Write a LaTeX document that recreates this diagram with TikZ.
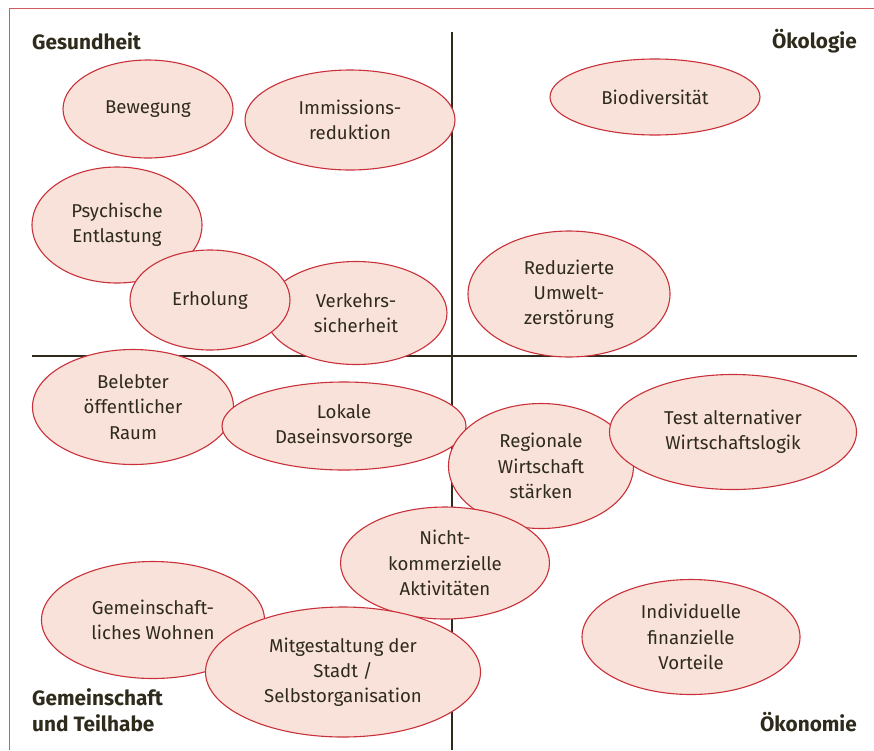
\documentclass[tikz,border=0pt]{standalone}
\usepackage{fontspec}
\setmainfont{Fira Sans}
\usetikzlibrary{shapes.geometric}
\definecolor{ellfill}{HTML}{F9E2D9}
\definecolor{elldraw}{HTML}{C9303A}
\definecolor{framecol}{HTML}{D05A62}
\definecolor{txt}{HTML}{2E2B1C}
\tikzset{
  ell/.style={ellipse, draw=elldraw, fill=ellfill, line width=1.1pt, inner sep=0pt,
    align=center, text=txt, font=\fontsize{18.6}{25.2}\selectfont},
  corner/.style={text=txt, font=\fontsize{20.8}{25.5}\selectfont\bfseries, inner sep=0pt},
  axis/.style={draw=txt, line width=1.2pt}
}
\begin{document}
\begin{tikzpicture}[x=1pt,y=-1pt]
\useasboundingbox (0,0) rectangle (874,750);
% frame
\coordinate (fa) at (874,8.5);
\coordinate (fb) at (9.5,8.5);
\coordinate (fc) at (9.5,750);
\draw[framecol, line width=1.7pt] (fa) -- (fb) -- (fc);
% axes
\coordinate (vt) at (452,32);
\coordinate (vb) at (452,750);
\coordinate (hl) at (32,356);
\coordinate (hr) at (857,356);
\draw[axis] (vt) -- (vb);
\draw[axis] (hl) -- (hr);
% corner labels
\node[corner, anchor=west] (ges) at (32,41) {Gesundheit};
\node[corner, anchor=east] (oek) at (857,41) {Ökologie};
\node[corner, anchor=east] (oko) at (857,722) {Ökonomie};
\node[corner, anchor=west, align=left] (gem) at (32,710) {Gemeinschaft\\und Teilhabe};
% ellipses
\node[ell, minimum width=170pt, minimum height=98pt] (bew) at (148,109) {Bewegung};
\node[ell, minimum width=210pt, minimum height=100pt] (imm) at (350,120) {Immissions-\\reduktion};
\node[ell, minimum width=210pt, minimum height=76pt] (bio) at (655,97) {Biodiversität};
\node[ell, minimum width=170pt, minimum height=116pt] (psy) at (117,225) {Psychische\\Entlastung};
\node[ell, minimum width=182pt, minimum height=103pt] (ver) at (356,313) {Verkehrs-\\sicherheit};
\node[ell, minimum width=160pt, minimum height=100pt] (erh) at (210,300) {Erholung};
\node[ell, minimum width=202pt, minimum height=126pt] (red) at (569,294) {Reduzierte\\Umwelt-\\zerstörung};
\node[ell, minimum width=201pt, minimum height=115pt] (bel) at (133,407) {Belebter\\öffentlicher\\Raum};
\node[ell, minimum width=244pt, minimum height=88pt] (lok) at (344,426) {Lokale\\Daseinsvorsorge};
\node[ell, minimum width=185pt, minimum height=125pt] (reg) at (541,466) {Regionale\\Wirtschaft\\stärken};
\node[ell, minimum width=247pt, minimum height=115pt] (tes) at (733,432) {Test alternativer\\Wirtschaftslogik};
\node[ell, minimum width=209pt, minimum height=112pt] (nic) at (445,563) {Nicht-\\kommerzielle\\Aktivitäten};
\node[ell, minimum width=223pt, minimum height=117pt] (gwo) at (153,620) {Gemeinschaft-\\liches Wohnen};
\node[ell, minimum width=275pt, minimum height=130pt] (mit) at (343,672) {Mitgestaltung der\\Stadt /\\Selbstorganisation};
\node[ell, minimum width=218pt, minimum height=115pt] (ind) at (691,637) {Individuelle\\finanzielle\\Vorteile};
\end{tikzpicture}
\end{document}
